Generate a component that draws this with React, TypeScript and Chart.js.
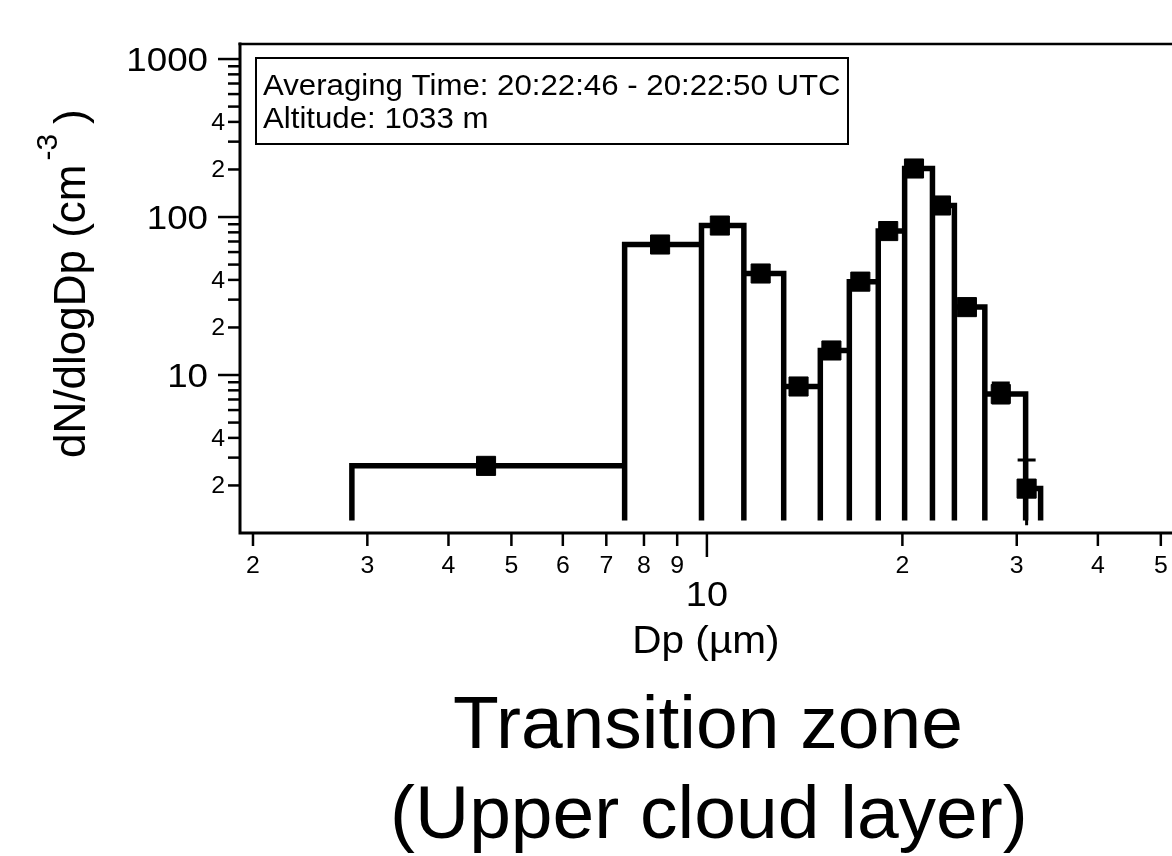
import React, { useEffect, useRef } from "react";
import { Chart, registerables } from "chart.js";

Chart.register(...registerables);

// ---- data ----
// Bin edges of the size distribution (Dp, µm)
const BIN_EDGES = [2.84, 7.47, 9.81, 11.4, 13.13, 14.95, 16.57, 18.36, 20.16, 22.25, 24.05, 26.79, 30.96, 32.65];
// dN/dlogDp of each bin (cm^-3)
const BIN_VALUES = [2.66, 67.0, 88.3, 43.9, 8.46, 14.3, 39.0, 81.5, 202.8, 118.3, 26.9, 7.58, 1.91];
// Dp where each marker sits (µm)
const POINT_DP = [4.57, 8.47, 10.47, 12.1, 13.84, 15.55, 17.23, 19.02, 20.84, 22.93, 25.14, 28.35, 31.07];
// error bars (only visible ones)
const ERR_LOW = [null, null, null, null, null, null, null, null, null, null, null, 6.65, 1.12];
const ERR_HIGH = [null, null, null, null, null, null, null, null, null, null, null, 8.9, 2.9];
const BAR_BASE = 1.2;

// axis ranges
const X_MIN = 1.91;
const X_MAX = 77.8;
const Y_MIN = 1;
const Y_MAX = 1245;

// ticks
const X_TICKS = [2, 3, 4, 5, 6, 7, 8, 9, 10, 20, 30, 40, 50];
const X_TICK_LABELS = ["2", "3", "4", "5", "6", "7", "8", "9", "10", "2", "3", "4", "5"];
const Y_TICKS = [2, 3, 4, 5, 6, 7, 8, 9, 10, 20, 30, 40, 50, 60, 70, 80, 90, 100, 200, 300, 400, 500, 600, 700, 800, 900, 1000];
const Y_TICK_LABELS = ["2", "", "4", "", "", "", "", "", "10", "2", "", "4", "", "", "", "", "", "100", "2", "", "4", "", "", "", "", "", "1000"];

// texts
const X_TITLE = "Dp (µm)";
const Y_TITLE_MAIN = "dN/dlogDp (cm";
const Y_TITLE_SUP = "-3";
const Y_TITLE_END = ")";
const NOTE_LINES = ["Averaging Time: 20:22:46 - 20:22:50 UTC", "Altitude: 1033 m"];
const CAPTION_LINES = ["Transition zone", "(Upper cloud layer)"];

const FONT = '"Liberation Sans", Arial, Helvetica, sans-serif';

function drawText(ctx: CanvasRenderingContext2D, s: string, x: number, y: number, size: number, align: CanvasTextAlign, sx = 1) {
  ctx.save();
  ctx.translate(x, y);
  ctx.scale(sx, 1);
  ctx.font = `${size}px ${FONT}`;
  ctx.textAlign = align;
  ctx.textBaseline = "alphabetic";
  ctx.fillStyle = "#000";
  ctx.fillText(s, 0, 0);
  ctx.restore();
}

const isDecade = (v: number) => Math.abs(Math.log10(v) - Math.round(Math.log10(v))) < 1e-9;

const decorPlugin = {
  id: "decor",
  beforeDatasetsDraw(chart: any) {
    const ctx: CanvasRenderingContext2D = chart.ctx;
    const xs = chart.scales.x;
    const ys = chart.scales.y;
    ctx.save();
    ctx.strokeStyle = "#000";
    ctx.lineWidth = 3;
    ctx.lineCap = "butt";
    for (let i = 0; i < POINT_DP.length; i++) {
      const lo = ERR_LOW[i];
      const hi = ERR_HIGH[i];
      if (lo == null || hi == null) continue;
      const px = xs.getPixelForValue(POINT_DP[i]);
      const y1 = ys.getPixelForValue(hi);
      const y2 = ys.getPixelForValue(lo);
      ctx.beginPath();
      ctx.moveTo(px, y1);
      ctx.lineTo(px, y2);
      ctx.moveTo(px - 9, y1);
      ctx.lineTo(px + 9, y1);
      if (lo > BAR_BASE) {
        ctx.moveTo(px - 9, y2);
        ctx.lineTo(px + 9, y2);
      }
      ctx.stroke();
    }
    ctx.restore();
  },
  afterDraw(chart: any) {
    const ctx: CanvasRenderingContext2D = chart.ctx;
    const { left, right, top, bottom } = chart.chartArea;
    const xs = chart.scales.x;
    const ys = chart.scales.y;
    ctx.save();
    ctx.strokeStyle = "#000";
    ctx.lineCap = "butt";

    // frame
    ctx.lineWidth = 3;
    ctx.beginPath();
    ctx.moveTo(left, top - 1.5);
    ctx.lineTo(left, bottom + 1.5);
    ctx.moveTo(left - 1.5, bottom);
    ctx.lineTo(right, bottom);
    ctx.stroke();
    ctx.lineWidth = 2.6;
    ctx.beginPath();
    ctx.moveTo(left - 1.5, top);
    ctx.lineTo(right, top);
    ctx.lineTo(right, bottom);
    ctx.stroke();

    // y ticks & labels
    ctx.lineWidth = 2.5;
    Y_TICKS.forEach((v, i) => {
      const y = ys.getPixelForValue(v);
      const major = isDecade(v);
      ctx.beginPath();
      ctx.moveTo(left - (major ? 22 : 12), y);
      ctx.lineTo(left, y);
      ctx.stroke();
      const lab = Y_TICK_LABELS[i];
      if (!lab) return;
      if (major) drawText(ctx, lab, left - 32, y + 12, 34, "right", 1.08);
      else drawText(ctx, lab, left - 15, y + 8, 23, "right", 1.08);
    });

    // x ticks & labels
    X_TICKS.forEach((v, i) => {
      const x = xs.getPixelForValue(v);
      const major = isDecade(v);
      ctx.beginPath();
      ctx.moveTo(x, bottom);
      ctx.lineTo(x, bottom + (major ? 24 : 13));
      ctx.stroke();
      const lab = X_TICK_LABELS[i];
      if (major) drawText(ctx, lab, x, bottom + 73, 35, "center", 1.08);
      else drawText(ctx, lab, x, bottom + 40, 23, "center", 1.08);
    });

    // x title
    const xc = xs.getPixelForValue(10);
    drawText(ctx, X_TITLE, xc - 1, bottom + 120, 39, "center", 1.04);

    // y title (rotated)
    ctx.save();
    ctx.translate(85, 458);
    ctx.rotate(-Math.PI / 2);
    ctx.fillStyle = "#000";
    ctx.textBaseline = "alphabetic";
    ctx.textAlign = "left";
    ctx.font = `44px ${FONT}`;
    ctx.fillText(Y_TITLE_MAIN, 0, 0);
    const w1 = ctx.measureText(Y_TITLE_MAIN).width;
    ctx.font = `30px ${FONT}`;
    ctx.fillText(Y_TITLE_SUP, w1 + 4, -28);
    const w2 = ctx.measureText(Y_TITLE_SUP).width;
    ctx.font = `44px ${FONT}`;
    ctx.fillText(Y_TITLE_END, w1 + w2 + 14, 0);
    ctx.restore();

    // annotation box
    ctx.lineWidth = 2;
    ctx.strokeRect(256, 58, 592, 86);
    drawText(ctx, NOTE_LINES[0], 263, 95, 30, "left", 1.04);
    drawText(ctx, NOTE_LINES[1], 263, 128, 30, "left", 1.04);

    // caption
    drawText(ctx, CAPTION_LINES[0], xc + 1, 748, 75, "center");
    drawText(ctx, CAPTION_LINES[1], xc + 2, 838, 75, "center");
    ctx.restore();
  },
};

export default function App() {
  const ref = useRef<HTMLCanvasElement | null>(null);

  useEffect(() => {
    if (!ref.current) return;
    const steps: { x: number; y: number }[] = [];
    for (let i = 0; i < BIN_VALUES.length; i++) {
      const l = BIN_EDGES[i];
      const r = BIN_EDGES[i + 1];
      const v = BIN_VALUES[i];
      steps.push({ x: l, y: BAR_BASE }, { x: l, y: v }, { x: r, y: v }, { x: r, y: BAR_BASE });
    }
    const markers = POINT_DP.map((x, i) => ({ x, y: BIN_VALUES[i] }));

    const chart = new Chart(ref.current, {
      type: "line",
      data: {
        datasets: [
          {
            label: "markers",
            data: markers,
            showLine: false,
            pointStyle: "rect",
            pointRadius: 13.5,
            pointBackgroundColor: "#000",
            pointBorderColor: "#000",
            pointBorderWidth: 1,
          },
          {
            label: "dN/dlogDp",
            data: steps,
            borderColor: "#000",
            borderWidth: 5.5,
            pointRadius: 0,
            fill: false,
            tension: 0,
            borderJoinStyle: "miter",
            borderCapStyle: "butt",
          },
        ],
      },
      options: {
        animation: false,
        responsive: false,
        maintainAspectRatio: false,
        events: [],
        layout: { padding: { left: 240, top: 44, right: 10, bottom: 323 } },
        plugins: { legend: { display: false }, tooltip: { enabled: false } },
        scales: {
          x: { type: "logarithmic", min: X_MIN, max: X_MAX, bounds: "data", display: false },
          y: { type: "logarithmic", min: Y_MIN, max: Y_MAX, bounds: "data", display: false },
        },
      },
      plugins: [decorPlugin],
    } as any);
    return () => chart.destroy();
  }, []);

  return (
    <div style={{ position: "fixed", left: 0, top: 0, width: 1172, height: 856, overflow: "hidden", background: "#fff" }}>
      <canvas ref={ref} width={1300} height={856} style={{ display: "block", width: 1300, height: 856 }} />
    </div>
  );
}
